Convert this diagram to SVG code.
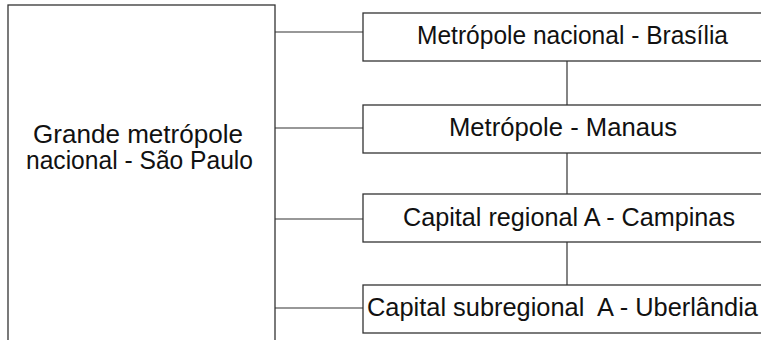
<svg xmlns="http://www.w3.org/2000/svg" width="761" height="340" viewBox="0 0 761 340">
<style>
.box{fill:#fff;stroke:#333;stroke-width:1.3}
.ln{stroke:#333;stroke-width:1.2;fill:none}
text{font-family:"Liberation Sans",Arial,sans-serif;font-size:25px;fill:#111}
</style>
<rect width="761" height="340" fill="#fff"/>
<g id="connectors">
<line class="ln" x1="275" y1="32" x2="363" y2="32"/>
<line class="ln" x1="275" y1="128" x2="363" y2="128"/>
<line class="ln" x1="275" y1="219" x2="363" y2="219"/>
<line class="ln" x1="275" y1="308" x2="363" y2="308"/>
<line class="ln" x1="567" y1="61" x2="567" y2="105"/>
<line class="ln" x1="567" y1="153" x2="567" y2="194"/>
<line class="ln" x1="567" y1="242" x2="567" y2="285"/>
</g>
<g id="saopaulo">
<rect class="box" x="8" y="5" width="267" height="345"/>
<text x="33" y="143" textLength="210" lengthAdjust="spacingAndGlyphs">Grande metrópole</text>
<text x="26" y="169" textLength="227" lengthAdjust="spacingAndGlyphs">nacional - São Paulo</text>
</g>
<g id="brasilia">
<rect class="box" x="363" y="13" width="410" height="48"/>
<text x="417" y="44" textLength="311" lengthAdjust="spacingAndGlyphs">Metrópole nacional - Brasília</text>
</g>
<g id="manaus">
<rect class="box" x="363" y="105" width="410" height="48"/>
<text x="449" y="136" textLength="228" lengthAdjust="spacingAndGlyphs">Metrópole - Manaus</text>
</g>
<g id="campinas">
<rect class="box" x="363" y="194" width="410" height="48"/>
<text x="403" y="226" textLength="332" lengthAdjust="spacingAndGlyphs">Capital regional A - Campinas</text>
</g>
<g id="uberlandia">
<rect class="box" x="363" y="285" width="410" height="48"/>
<text x="367" y="316" textLength="391" lengthAdjust="spacingAndGlyphs" style="white-space:pre">Capital subregional  A - Uberlândia</text>
</g>
</svg>
